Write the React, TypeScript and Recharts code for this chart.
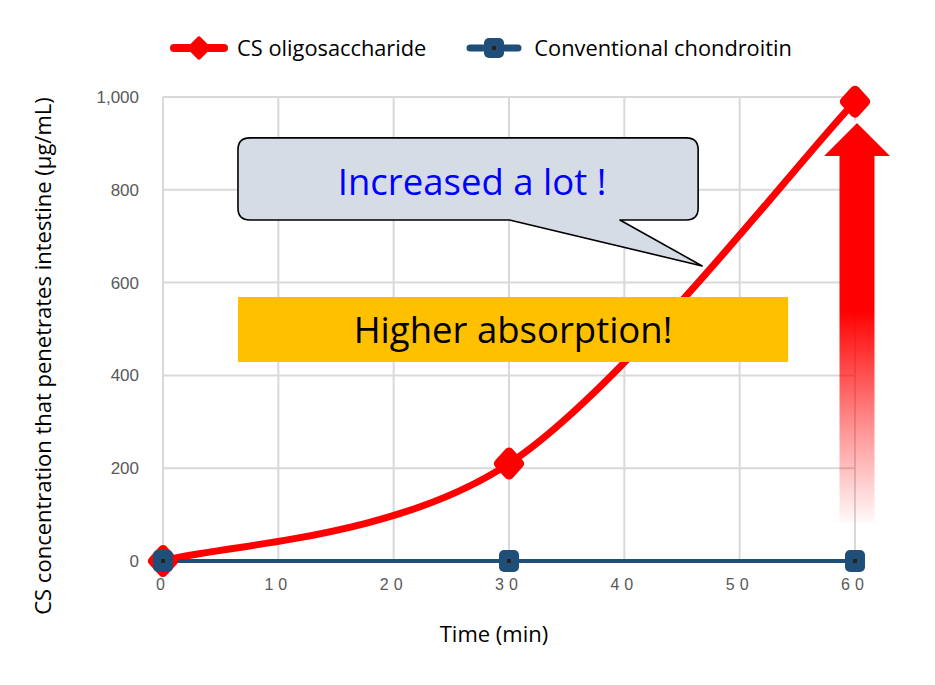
import React from 'react';
import {
  LineChart,
  Line,
  XAxis,
  YAxis,
  CartesianGrid,
  Legend,
  ReferenceArea,
  ReferenceLine,
} from 'recharts';

// ---- data ----
const times = [0, 30, 60];
const csOligosaccharide = [0, 210, 990];
const conventionalChondroitin = [0, 0, 0];
const xTicks = [0, 10, 20, 30, 40, 50, 60];
const yTicks = [0, 200, 400, 600, 800, 1000];
const seriesNames = ['CS oligosaccharide', 'Conventional chondroitin'];
const xTitle = 'Time (min)';
const yTitle = 'CS concentration that penetrates intestine (μg/mL)';
const calloutText = 'Increased a lot !';
const bannerText = 'Higher absorption!';

// annotation anchors (data coordinates)
const calloutBox = { x1: 6.5, x2: 46.4, y1: 735, y2: 912 };
const bannerBox = { x1: 6.5, x2: 54.2, y1: 429, y2: 569 };
const arrowSpan = { x: 60, yBottom: 82, yTop: 946 };

const data = times.map((t, i) => ({
  t,
  cs: csOligosaccharide[i],
  conv: conventionalChondroitin[i],
}));

const RED = '#FF0000';
const BLUE = '#1F4E79';
const FONT = '"Open Sans", Lato, sans-serif';

// Excel-like smoothing (Catmull-Rom / cardinal tension 0)
function excelCurve(context: any) {
  let pts: number[][] = [];
  return {
    areaStart() {},
    areaEnd() {},
    lineStart() {
      pts = [];
    },
    lineEnd() {
      const n = pts.length;
      if (n === 0) return;
      context.moveTo(pts[0][0], pts[0][1]);
      for (let i = 0; i < n - 1; i++) {
        const p0 = pts[Math.max(i - 1, 0)];
        const p1 = pts[i];
        const p2 = pts[i + 1];
        const p3 = pts[Math.min(i + 2, n - 1)];
        context.bezierCurveTo(
          p1[0] + (p2[0] - p0[0]) / 6,
          p1[1] + (p2[1] - p0[1]) / 6,
          p2[0] - (p3[0] - p1[0]) / 6,
          p2[1] - (p3[1] - p1[1]) / 6,
          p2[0],
          p2[1]
        );
      }
    },
    point(x: number, y: number) {
      pts.push([+x, +y]);
    },
  };
}

const RedDot = (props: any) => {
  const { cx, cy, index } = props;
  if (cx == null || cy == null) return <g key={`rd-${index}`} />;
  const r = 10;
  return (
    <path
      key={`rd-${index}`}
      d={`M${cx},${cy - r - 1} L${cx + r},${cy} L${cx},${cy + r + 1} L${cx - r},${cy} Z`}
      fill={RED}
      stroke={RED}
      strokeWidth={10}
      strokeLinejoin="round"
    />
  );
};

const BlueDot = (props: any) => {
  const { cx, cy, index } = props;
  if (cx == null || cy == null) return <g key={`bd-${index}`} />;
  return (
    <g key={`bd-${index}`}>
      <rect x={cx - 10} y={cy - 11} width={20} height={22} rx={5} fill={BLUE} />
      <rect x={cx - 2} y={cy - 2} width={4} height={4} fill="#222" />
    </g>
  );
};

const LegendContent = () => (
  <div
    style={{
      display: 'flex',
      justifyContent: 'center',
      alignItems: 'center',
      gap: 40,
      fontFamily: FONT,
      fontSize: 21.8,
      color: '#000',
      paddingLeft: 27,
      boxSizing: 'border-box',
    }}
  >
    <div style={{ display: 'flex', alignItems: 'center', gap: 9 }}>
      <svg width={58} height={28}>
        <line x1={4} y1={14} x2={54} y2={14} stroke={RED} strokeWidth={8} strokeLinecap="round" />
        <path d="M29,5 L38,14 L29,23 L20,14 Z" fill={RED} stroke={RED} strokeWidth={5} strokeLinejoin="round" />
      </svg>
      <span>{seriesNames[0]}</span>
    </div>
    <div style={{ display: 'flex', alignItems: 'center', gap: 12 }}>
      <svg width={56} height={28}>
        <line x1={4} y1={14} x2={52} y2={14} stroke={BLUE} strokeWidth={7} strokeLinecap="round" />
        <rect x={18} y={4} width={20} height={20} rx={5} fill={BLUE} />
        <rect x={26} y={12} width={4} height={4} fill="#222" />
      </svg>
      <span>{seriesNames[1]}</span>
    </div>
  </div>
);

const CalloutShape = (props: any) => {
  const { x, y, width: w, height: h } = props;
  const r = 12;
  const bL = x + 0.59 * w;
  const bR = x + 0.83 * w;
  const tipX = x + w + 4;
  const tipY = y + h + 46;
  const d = `M${x + r},${y} H${x + w - r} Q${x + w},${y} ${x + w},${y + r} V${y + h - r} Q${x + w},${y + h} ${x + w - r},${y + h} H${bR} L${tipX},${tipY} L${bL},${y + h} H${x + r} Q${x},${y + h} ${x},${y + h - r} V${y + r} Q${x},${y} ${x + r},${y} Z`;
  return (
    <g>
      <path d={d} fill="#D6DCE5" stroke="#000" strokeWidth={1.6} strokeLinejoin="round" />
      <text
        x={x + w / 2 + 4}
        y={y + h / 2 + 2}
        textAnchor="middle"
        dominantBaseline="central"
        fontFamily={FONT}
        fontSize={36.5}
        fill="#0000FF"
      >
        {calloutText}
      </text>
    </g>
  );
};

const BannerShape = (props: any) => {
  const { x, y, width: w, height: h } = props;
  return (
    <g>
      <rect x={x} y={y} width={w} height={h} fill="#FFC000" />
      <text
        x={x + w / 2}
        y={y + h / 2}
        textAnchor="middle"
        dominantBaseline="central"
        fontFamily={FONT}
        fontSize={36.5}
        fill="#000"
      >
        {bannerText}
      </text>
    </g>
  );
};

const ArrowShape = (props: any) => {
  const { x1, y1, y2 } = props;
  const cx = x1 + 2;
  const bottom = Math.max(y1, y2);
  const top = Math.min(y1, y2);
  const headH = 34;
  const headHalf = 34;
  const shaftHalf = 17.5;
  const d = `M${cx},${top} L${cx + headHalf},${top + headH} L${cx + shaftHalf},${top + headH} L${cx + shaftHalf},${bottom} L${cx - shaftHalf},${bottom} L${cx - shaftHalf},${top + headH} L${cx - headHalf},${top + headH} Z`;
  return (
    <g>
      <defs>
        <linearGradient id="arrowGrad" x1="0" y1="0" x2="0" y2="1">
          <stop offset="0" stopColor={RED} stopOpacity={1} />
          <stop offset="0.47" stopColor={RED} stopOpacity={1} />
          <stop offset="0.75" stopColor={RED} stopOpacity={0.45} />
          <stop offset="1" stopColor={RED} stopOpacity={0.02} />
        </linearGradient>
      </defs>
      <path d={d} fill="url(#arrowGrad)" />
      <polyline
        points={`${cx - headHalf - 1},${top + headH} ${cx},${top - 1} ${cx + headHalf + 1},${top + headH}`}
        fill="none"
        stroke="#fff"
        strokeWidth={3}
      />
    </g>
  );
};

export default function App() {
  return (
    <div style={{ position: 'absolute', left: 0, top: 0, width: 935, height: 685, background: '#fff' }}>
      <LineChart
        width={935}
        height={685}
        data={data}
        margin={{ top: 97, right: 80, bottom: 94, left: 20 }}
      >
        <CartesianGrid stroke="#D9D9D9" strokeWidth={2} />
        <XAxis
          dataKey="t"
          type="number"
          domain={[0, 60]}
          ticks={xTicks}
          axisLine={false}
          tickLine={false}
          height={30}
          tickMargin={12}
          tick={{ fill: '#595959', fontSize: 16, fontFamily: '"Liberation Sans", sans-serif', letterSpacing: 5 }}
          label={{
            content: (p: any) => {
              const vb = p.viewBox || { x: 163, y: 561, width: 692, height: 30 };
              return (
                <text
                  x={vb.x + vb.width / 2 - 15}
                  y={633}
                  textAnchor="middle"
                  dominantBaseline="central"
                  fontFamily={FONT}
                  fontSize={22}
                  fill="#000"
                >
                  {xTitle}
                </text>
              );
            },
          }}
        />
        <YAxis
          type="number"
          domain={[0, 1000]}
          ticks={yTicks}
          axisLine={false}
          tickLine={false}
          width={143}
          tickMargin={18}
          tickFormatter={(v: number) => v.toLocaleString('en-US')}
          tick={{ fill: '#595959', fontSize: 17, fontFamily: '"Liberation Sans", sans-serif' }}
          label={{
            content: () => (
              <text
                x={42}
                y={356}
                transform="rotate(-90 42 356)"
                textAnchor="middle"
                dominantBaseline="central"
                fontFamily={FONT}
                fontSize={22}
                fill="#000"
              >
                {yTitle}
              </text>
            ),
          }}
        />
        <Legend
          verticalAlign="middle"
          align="center"
          wrapperStyle={{ top: 33, left: 0, width: 935 }}
          content={<LegendContent />}
        />
        <Line
          type={excelCurve as any}
          dataKey="cs"
          name={seriesNames[0]}
          stroke={RED}
          strokeWidth={7}
          dot={RedDot}
          activeDot={false}
          isAnimationActive={false}
        />
        <Line
          type="linear"
          dataKey="conv"
          name={seriesNames[1]}
          stroke={BLUE}
          strokeWidth={4}
          dot={BlueDot}
          activeDot={false}
          isAnimationActive={false}
        />
        <ReferenceLine
          segment={[
            { x: arrowSpan.x, y: arrowSpan.yBottom },
            { x: arrowSpan.x, y: arrowSpan.yTop },
          ]}
          shape={ArrowShape}
          zIndex={1500}
        />
        <ReferenceArea
          x1={calloutBox.x1}
          x2={calloutBox.x2}
          y1={calloutBox.y1}
          y2={calloutBox.y2}
          shape={CalloutShape}
          zIndex={1500}
        />
        <ReferenceArea
          x1={bannerBox.x1}
          x2={bannerBox.x2}
          y1={bannerBox.y1}
          y2={bannerBox.y2}
          shape={BannerShape}
          zIndex={1500}
        />
      </LineChart>
    </div>
  );
}
